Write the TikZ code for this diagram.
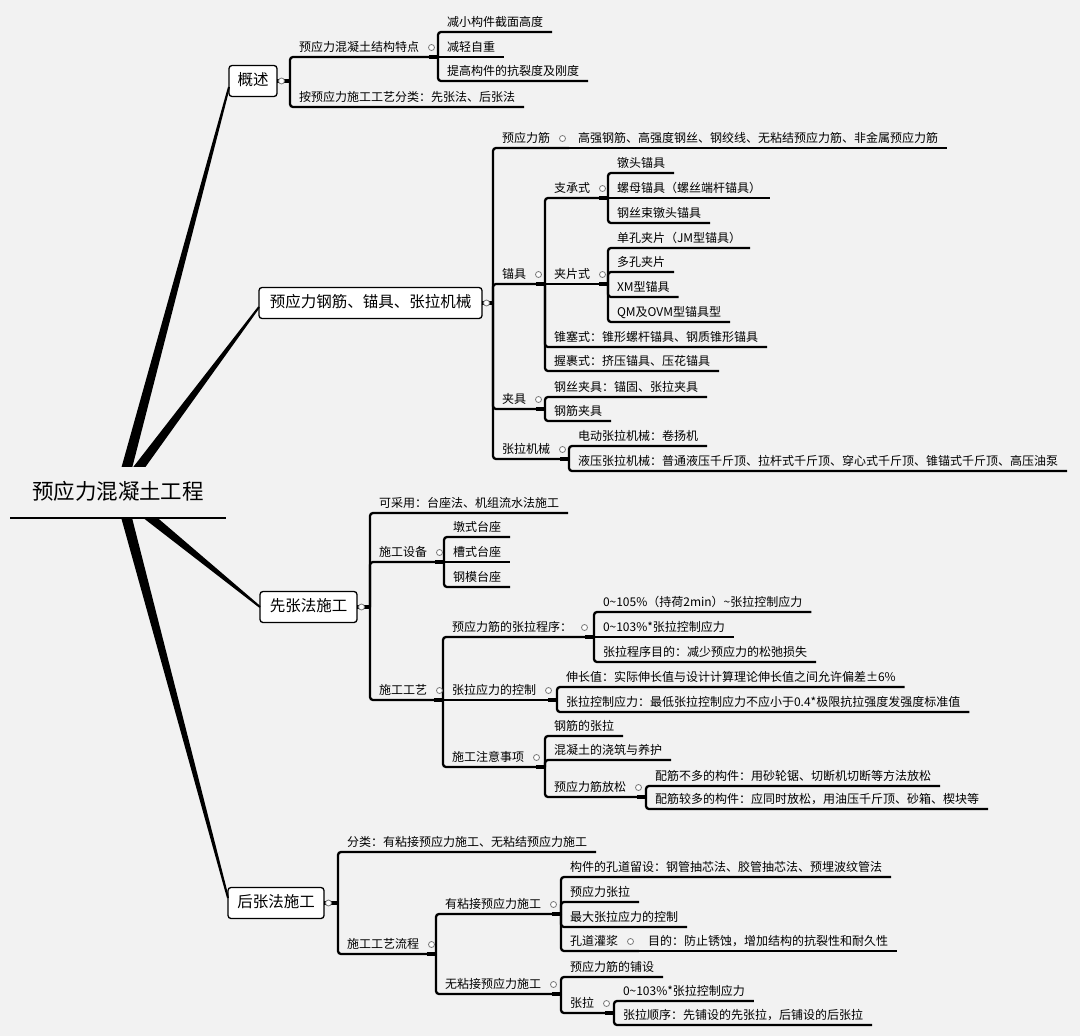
\documentclass[tikz,border=0pt]{standalone}
\usepackage{fontspec}
\setmainfont{Noto Sans CJK SC}
\usetikzlibrary{calc}
\definecolor{paper}{RGB}{242,242,242}
\definecolor{knobgray}{RGB}{120,120,120}

\tikzset{
  maintitle/.style={anchor=south west, minimum width=216pt, minimum height=51pt, inner sep=0pt, outer sep=0pt,
    fill=paper, text height=17pt, text depth=3pt, font=\fontsize{21.5pt}{24pt}\selectfont},
  topic/.style={draw, fill=white, rounded corners=3pt, line width=1.3pt, anchor=west, minimum height=31pt,
    inner sep=0pt, outer sep=0pt, text height=12pt, text depth=2.5pt, font=\fontsize{15.5pt}{18pt}\selectfont},
  leaf/.style={anchor=south west, inner xsep=9pt, inner ysep=3.5pt, outer sep=0pt, text height=10pt,
    text depth=2pt, font=\fontsize{12pt}{14pt}\selectfont},
  link/.style={line width=2.3pt, rounded corners=3pt},
  stub/.style={line width=3.8pt},
  knob/.style={draw=knobgray, fill=white, line width=0.8pt},
  branch/.style={fill=black},
}
\newcommand{\taperline}[2]{\fill[branch] ($(#1)!5.5pt!90:(#2)$) -- ($(#2)!1pt!-90:(#1)$)
  -- ($(#2)!1pt!90:(#1)$) -- ($(#1)!5.5pt!-90:(#2)$) -- cycle;}
\newcommand{\wave}{\string~}

\begin{document}
\begin{tikzpicture}[x=1pt, y=-1pt]
    \useasboundingbox (0,0) rectangle (1080,1036);
    \fill[paper] (0,0) rectangle (1080,1036);

    % main topics, with tapered branches from the title
    \coordinate (hub) at (120,493);
    \node[topic, minimum width=48pt] (gs) at (229,81) {概述};
    \node[topic, minimum width=223pt] (gjx) at (259,303) {预应力钢筋、锚具、张拉机械};
    \node[topic, minimum width=97pt] (xz) at (260,607) {先张法施工};
    \node[topic, minimum width=96pt] (hz) at (228,903) {后张法施工};
    \coordinate (gs-in) at ([yshift=-6pt]gs.west);
    \coordinate (gjx-in) at ([yshift=-4pt]gjx.west);
    \coordinate (xz-in) at (xz.west);
    \coordinate (hz-in) at ([yshift=5pt]hz.west);
    \taperline{hub}{gs-in}
    \taperline{hub}{gjx-in}
    \taperline{hub}{xz-in}
    \taperline{hub}{hz-in}

    % title (covers the start of the branches)
    \node[maintitle] (title) at (10,518) {预应力混凝土工程};
    \draw[line width=2.6pt] (title.south west) -- (title.south east);

    % ---- 概述
    \coordinate (gs-j) at (290,81);
    \node[leaf] (tzd) at (290,57) {预应力混凝土结构特点};
    \coordinate (tzd-j) at (438,57);
    \node[leaf] (tz1) at (438,32) {减小构件截面高度};
    \node[leaf] (tz2) at (438,57) {减轻自重};
    \node[leaf] (tz3) at (438,81) {提高构件的抗裂度及刚度};
    \node[leaf] (fl) at (290,107) {按预应力施工工艺分类：先张法、后张法};
    \draw[stub] (gs.east) -- (gs-j);
    \draw[link] (gs-j) -- (tzd.south west) -- (tzd-j);
    \draw[link] (gs-j) -- (fl.south west) -- (fl.south east);
    \draw[stub] ([xshift=-9pt]tzd-j) -- (tzd-j);
    \draw[link] (tzd-j) -- (tz1.south west) -- (tz1.south east);
    \draw[link] (tzd-j) -- (tz2.south east);
    \draw[link] (tzd-j) -- (tz3.south west) -- (tz3.south east);
    \draw[knob] ([xshift=4.5pt]gs.east) circle[radius=3pt];
    \draw[knob] ([xshift=3.5pt]tzd.east) circle[radius=3pt];

    % ---- 预应力钢筋、锚具、张拉机械
    \coordinate (gjx-j) at (493,303);
    \node[leaf] (yl) at (493,148) {预应力筋};
    \coordinate (yl-j) at (569,148);
    \node[leaf] (yl1) at (569,148) {高强钢筋、高强度钢丝、钢绞线、无粘结预应力筋、非金属预应力筋};
    \node[leaf] (mj) at (493,284) {锚具};
    \coordinate (mj-j) at (545,284);
    \node[leaf] (zc) at (545,198) {支承式};
    \coordinate (zc-j) at (608,198);
    \node[leaf] (zc1) at (608,173) {镦头锚具};
    \node[leaf] (zc2) at (608,198) {螺母锚具（螺丝端杆锚具）};
    \node[leaf] (zc3) at (608,223) {钢丝束镦头锚具};
    \node[leaf] (jp) at (545,284) {夹片式};
    \coordinate (jp-j) at (608,284);
    \node[leaf] (jp1) at (608,248) {单孔夹片（JM型锚具）};
    \node[leaf] (jp2) at (608,272) {多孔夹片};
    \node[leaf] (jp3) at (608,297) {XM型锚具};
    \node[leaf] (jp4) at (608,322) {QM及OVM型锚具型};
    \node[leaf] (zs) at (545,347) {锥塞式：锥形螺杆锚具、钢质锥形锚具};
    \node[leaf] (wg) at (545,371) {握裹式：挤压锚具、压花锚具};
    \node[leaf] (jj) at (493,409) {夹具};
    \coordinate (jj-j) at (545,409);
    \node[leaf] (jj1) at (545,397) {钢丝夹具：锚固、张拉夹具};
    \node[leaf] (jj2) at (545,421) {钢筋夹具};
    \node[leaf] (jx) at (493,459) {张拉机械};
    \coordinate (jx-j) at (569,459);
    \node[leaf] (jx1) at (569,446) {电动张拉机械：卷扬机};
    \node[leaf] (jx2) at (569,471) {液压张拉机械：普通液压千斤顶、拉杆式千斤顶、穿心式千斤顶、锥锚式千斤顶、高压油泵};
    \draw[stub] (gjx.east) -- (gjx-j);
    \draw[link] (gjx-j) -- (yl.south west) -- (yl-j);
    \draw[link] (gjx-j) -- (mj.south west) -- (mj-j);
    \draw[link] (gjx-j) -- (jj.south west) -- (jj-j);
    \draw[link] (gjx-j) -- (jx.south west) -- (jx-j);
    \draw[link] (yl-j) -- (yl1.south east);
    \draw[link] (mj-j) -- (zc.south west) -- (zc-j);
    \draw[link] (mj-j) -- (jp-j);
    \draw[link] (mj-j) -- (zs.south west) -- (zs.south east);
    \draw[link] (mj-j) -- (wg.south west) -- (wg.south east);
    \draw[link] (zc-j) -- (zc1.south west) -- (zc1.south east);
    \draw[link] (zc-j) -- (zc2.south east);
    \draw[link] (zc-j) -- (zc3.south west) -- (zc3.south east);
    \draw[link] (jp-j) -- (jp1.south west) -- (jp1.south east);
    \draw[link] (jp-j) -- (jp2.south west) -- (jp2.south east);
    \draw[link] (jp-j) -- (jp3.south west) -- (jp3.south east);
    \draw[link] (jp-j) -- (jp4.south west) -- (jp4.south east);
    \draw[link] (jj-j) -- (jj1.south west) -- (jj1.south east);
    \draw[link] (jj-j) -- (jj2.south west) -- (jj2.south east);
    \draw[link] (jx-j) -- (jx1.south west) -- (jx1.south east);
    \draw[link] (jx-j) -- (jx2.south west) -- (jx2.south east);
    \draw[stub] ([xshift=-9pt]mj-j) -- (mj-j);
    \draw[stub] ([xshift=-9pt]zc-j) -- (zc-j);
    \draw[stub] ([xshift=-9pt]jp-j) -- (jp-j);
    \draw[stub] ([xshift=-9pt]jj-j) -- (jj-j);
    \draw[stub] ([xshift=-9pt]jx-j) -- (jx-j);
    \draw[knob] ([xshift=4.5pt]gjx.east) circle[radius=3pt];
    \draw[knob] ([xshift=3.5pt]yl.east) circle[radius=3pt];
    \draw[knob] ([xshift=3.5pt]mj.east) circle[radius=3pt];
    \draw[knob] ([xshift=3.5pt]zc.east) circle[radius=3pt];
    \draw[knob] ([xshift=3.5pt]jp.east) circle[radius=3pt];
    \draw[knob] ([xshift=3.5pt]jj.east) circle[radius=3pt];
    \draw[knob] ([xshift=3.5pt]jx.east) circle[radius=3pt];

    % ---- 先张法施工
    \coordinate (xz-j) at (370,607);
    \node[leaf] (ky) at (370,513) {可采用：台座法、机组流水法施工};
    \node[leaf] (sb) at (370,562) {施工设备};
    \coordinate (sb-j) at (444,562);
    \node[leaf] (sb1) at (444,537) {墩式台座};
    \node[leaf] (sb2) at (444,562) {槽式台座};
    \node[leaf] (sb3) at (444,587) {钢模台座};
    \node[leaf] (gy) at (370,700) {施工工艺};
    \coordinate (gy-j) at (443,700);
    \node[leaf] (cx) at (443,637) {预应力筋的张拉程序：};
    \coordinate (cx-j) at (594,637);
    \node[leaf] (cx1) at (594,612) {0\wave105\%（持荷2min）\wave 张拉控制应力};
    \node[leaf] (cx2) at (594,637) {0\wave103\%*张拉控制应力};
    \node[leaf] (cx3) at (594,662) {张拉程序目的：减少预应力的松弛损失};
    \node[leaf] (kz) at (443,700) {张拉应力的控制};
    \coordinate (kz-j) at (557,700);
    \node[leaf] (kz1) at (557,687) {伸长值：实际伸长值与设计计算理论伸长值之间允许偏差±6\%};
    \node[leaf] (kz2) at (557,712) {张拉控制应力：最低张拉控制应力不应小于0.4*极限抗拉强度发强度标准值};
    \node[leaf] (zy) at (443,767) {施工注意事项};
    \coordinate (zy-j) at (545,767);
    \node[leaf] (zy1) at (545,736) {钢筋的张拉};
    \node[leaf] (zy2) at (545,760) {混凝土的浇筑与养护};
    \node[leaf] (fs) at (545,797) {预应力筋放松};
    \coordinate (fs-j) at (646,797);
    \node[leaf] (fs1) at (646,786) {配筋不多的构件：用砂轮锯、切断机切断等方法放松};
    \node[leaf] (fs2) at (646,809) {配筋较多的构件：应同时放松，用油压千斤顶、砂箱、楔块等};
    \draw[stub] (xz.east) -- (xz-j);
    \draw[link] (xz-j) -- (ky.south west) -- (ky.south east);
    \draw[link] (xz-j) -- (sb.south west) -- (sb-j);
    \draw[link] (xz-j) -- (gy.south west) -- (gy-j);
    \draw[link] (sb-j) -- (sb1.south west) -- (sb1.south east);
    \draw[link] (sb-j) -- (sb2.south east);
    \draw[link] (sb-j) -- (sb3.south west) -- (sb3.south east);
    \draw[link] (gy-j) -- (cx.south west) -- (cx-j);
    \draw[link] (gy-j) -- (kz-j);
    \draw[link] (gy-j) -- (zy.south west) -- (zy-j);
    \draw[link] (cx-j) -- (cx1.south west) -- (cx1.south east);
    \draw[link] (cx-j) -- (cx2.south east);
    \draw[link] (cx-j) -- (cx3.south west) -- (cx3.south east);
    \draw[link] (kz-j) -- (kz1.south west) -- (kz1.south east);
    \draw[link] (kz-j) -- (kz2.south west) -- (kz2.south east);
    \draw[link] (zy-j) -- (zy1.south west) -- (zy1.south east);
    \draw[link] (zy-j) -- (zy2.south west) -- (zy2.south east);
    \draw[link] (zy-j) -- (fs.south west) -- (fs-j);
    \draw[link] (fs-j) -- (fs1.south west) -- (fs1.south east);
    \draw[link] (fs-j) -- (fs2.south west) -- (fs2.south east);
    \draw[stub] ([xshift=-9pt]sb-j) -- (sb-j);
    \draw[stub] ([xshift=-9pt]gy-j) -- (gy-j);
    \draw[stub] ([xshift=-9pt]cx-j) -- (cx-j);
    \draw[stub] ([xshift=-9pt]kz-j) -- (kz-j);
    \draw[stub] ([xshift=-9pt]zy-j) -- (zy-j);
    \draw[stub] ([xshift=-9pt]fs-j) -- (fs-j);
    \draw[knob] ([xshift=4.5pt]xz.east) circle[radius=3pt];
    \draw[knob] ([xshift=3.5pt]sb.east) circle[radius=3pt];
    \draw[knob] ([xshift=3.5pt]gy.east) circle[radius=3pt];
    \draw[knob] ([xshift=3.5pt]cx.east) circle[radius=3pt];
    \draw[knob] ([xshift=3.5pt]kz.east) circle[radius=3pt];
    \draw[knob] ([xshift=3.5pt]zy.east) circle[radius=3pt];
    \draw[knob] ([xshift=3.5pt]fs.east) circle[radius=3pt];

    % ---- 后张法施工
    \coordinate (hz-j) at (338,903);
    \node[leaf] (hfl) at (338,852) {分类：有粘接预应力施工、无粘结预应力施工};
    \node[leaf] (lc) at (338,954) {施工工艺流程};
    \coordinate (lc-j) at (436,954);
    \node[leaf] (yn) at (436,914) {有粘接预应力施工};
    \coordinate (yn-j) at (561,914);
    \node[leaf] (yn1) at (561,877) {构件的孔道留设：钢管抽芯法、胶管抽芯法、预埋波纹管法};
    \node[leaf] (yn2) at (561,902) {预应力张拉};
    \node[leaf] (yn3) at (561,927) {最大张拉应力的控制};
    \node[leaf] (kd) at (561,951) {孔道灌浆};
    \coordinate (kd-j) at (639,951);
    \node[leaf] (kd1) at (639,951) {目的：防止锈蚀，增加结构的抗裂性和耐久性};
    \node[leaf] (wn) at (436,994) {无粘接预应力施工};
    \coordinate (wn-j) at (561,994);
    \node[leaf] (wn1) at (561,977) {预应力筋的铺设};
    \node[leaf] (zl) at (561,1013) {张拉};
    \coordinate (zl-j) at (614,1013);
    \node[leaf] (zl1) at (614,1001) {0\wave103\%*张拉控制应力};
    \node[leaf] (zl2) at (614,1025) {张拉顺序：先铺设的先张拉，后铺设的后张拉};
    \draw[stub] (hz.east) -- (hz-j);
    \draw[link] (hz-j) -- (hfl.south west) -- (hfl.south east);
    \draw[link] (hz-j) -- (lc.south west) -- (lc-j);
    \draw[link] (lc-j) -- (yn.south west) -- (yn-j);
    \draw[link] (lc-j) -- (wn.south west) -- (wn-j);
    \draw[link] (yn-j) -- (yn1.south west) -- (yn1.south east);
    \draw[link] (yn-j) -- (yn2.south west) -- (yn2.south east);
    \draw[link] (yn-j) -- (yn3.south west) -- (yn3.south east);
    \draw[link] (yn-j) -- (kd.south west) -- (kd-j);
    \draw[link] (kd-j) -- (kd1.south east);
    \draw[link] (wn-j) -- (wn1.south west) -- (wn1.south east);
    \draw[link] (wn-j) -- (zl.south west) -- (zl-j);
    \draw[link] (zl-j) -- (zl1.south west) -- (zl1.south east);
    \draw[link] (zl-j) -- (zl2.south west) -- (zl2.south east);
    \draw[stub] ([xshift=-9pt]lc-j) -- (lc-j);
    \draw[stub] ([xshift=-9pt]yn-j) -- (yn-j);
    \draw[stub] ([xshift=-9pt]wn-j) -- (wn-j);
    \draw[stub] ([xshift=-9pt]zl-j) -- (zl-j);
    \draw[knob] ([xshift=4.5pt]hz.east) circle[radius=3pt];
    \draw[knob] ([xshift=3.5pt]lc.east) circle[radius=3pt];
    \draw[knob] ([xshift=3.5pt]yn.east) circle[radius=3pt];
    \draw[knob] ([xshift=3.5pt]kd.east) circle[radius=3pt];
    \draw[knob] ([xshift=3.5pt]wn.east) circle[radius=3pt];
    \draw[knob] ([xshift=3.5pt]zl.east) circle[radius=3pt];
  \end{tikzpicture}
\end{document}
